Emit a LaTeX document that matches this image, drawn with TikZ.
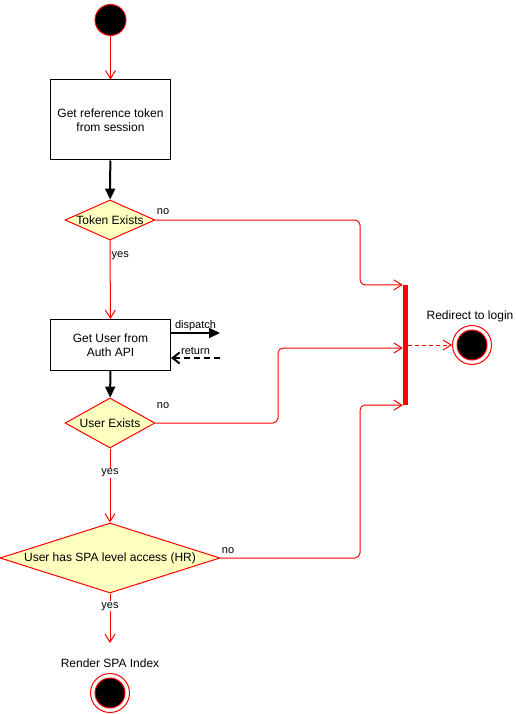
\documentclass[tikz,border=0pt]{standalone}
\usepackage{fontspec}
\setmainfont{Liberation Sans}
\usetikzlibrary{shapes.geometric,arrows.meta}

\definecolor{umlred}{HTML}{FF0000}
\definecolor{umlyellow}{HTML}{FFFFC0}

\tikzset{
	flow/.style={draw=umlred, line width=1pt, -{Straight Barb[length=8pt,width=10pt]}},
	ctrl/.style={draw=black, line width=2pt, -{Triangle[length=11pt,width=10pt]}},
	ret/.style={draw=black, line width=2pt, dash pattern=on 6pt off 4pt, -{Straight Barb[length=7pt,width=11pt]}},
	action/.style={rectangle, draw=black, line width=1pt, fill=white, inner sep=0pt, align=center, minimum width=120pt},
	decision/.style={diamond, draw=umlred, line width=1pt, fill=umlyellow, inner sep=0pt},
	startstate/.style={circle, draw=umlred, line width=1pt, fill=black, minimum size=31pt, inner sep=0pt},
	endstate/.style={circle, draw=umlred, line width=1pt, fill=white, minimum size=39pt, inner sep=0pt},
	endcore/.style={draw=umlred, line width=1pt, fill=black},
	joinbar/.style={rectangle, fill=umlred, minimum width=5pt, minimum height=120pt, inner sep=0pt},
	lbl/.style={font=\fontsize{11}{13}\selectfont, inner sep=1pt},
}

\begin{document}
\begin{tikzpicture}[x=1pt, y=-1pt, font=\fontsize{12}{14}\selectfont]
		\useasboundingbox (0, 0) rectangle (515, 714);
		\node [startstate] (0) at (110.5, 20) {};
		\node [action, minimum height=80pt] (1) at (110.5, 120) {Get reference token\\from session};
		\node [decision, minimum width=90pt, minimum height=40pt, label=center:Token Exists] (2) at (110, 220) {};
		\node [action, minimum height=51pt] (3) at (110.5, 345) {Get User from\\Auth API};
		\node [decision, minimum width=90pt, minimum height=50pt, label=center:User Exists] (4) at (110, 423) {};
		\node [decision, minimum width=220pt, minimum height=70pt, label=center:User has SPA level access (HR)] (5) at (110, 558) {};
		\node [endstate] (6) at (110, 693) {};
		\node [endstate] (7) at (472, 345) {};
		\node [joinbar] (8) at (405.5, 345) {};
		\coordinate (9) at (220, 333);
		\coordinate (10) at (220, 358);
		\node [] (11) at (110, 663) {Render SPA Index};
		\node [] (12) at (470, 316) {Redirect to login};
		\draw [endcore] (6.center) circle (15pt);
		\draw [endcore] (7.center) circle (15pt);

		\draw [flow] (0) to (1);
		\draw [ctrl] (1) to (2);
		\draw [flow] (2) to node [lbl, pos=0.19, anchor=west] {yes} (3);
		\draw [ctrl] (3.east |- 9) to node [lbl, above] {dispatch} (9);
		\draw [ret] (10) to node [lbl, above, yshift=1pt] {return} (3.east |- 10);
		\draw [ctrl] (3) to (4);
		\draw [flow] (4) to node [lbl, fill=white, pos=0.33] {yes} (5);
		\draw [flow, shorten >=30pt] (5) to node [lbl, fill=white, pos=0.16] {yes} (6);

		\node [lbl] (13) at (163, 212) {no};
		\node [lbl] (14) at (163, 406) {no};
		\node [lbl] (15) at (228, 551) {no};
		\coordinate (16) at (278, 348);
		\draw [flow, rounded corners=5pt] (2.east) -| (360, 285) -- (8.north west);
		\draw [flow, rounded corners=5pt] (4.east) -| (16) -- (8.west |- 16);
		\draw [flow, rounded corners=5pt] (5.east) -| (360, 405) -- (8.south west);
		\draw [flow, dash pattern=on 4pt off 3pt] (8) to (7);
\end{tikzpicture}
\end{document}
